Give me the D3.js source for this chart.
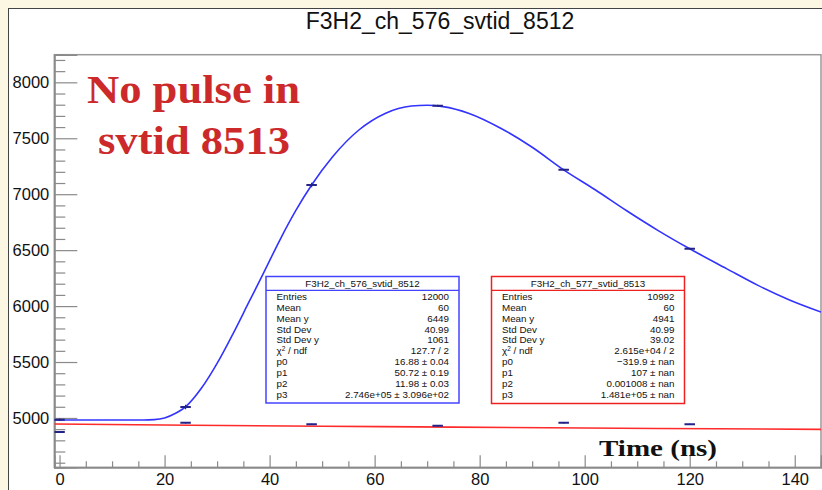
<!DOCTYPE html>
<html><head><meta charset="utf-8">
<script src="https://cdn.jsdelivr.net/npm/d3@7"></script>
<style>
html,body{margin:0;padding:0;background:#fcf7e2;}
svg{display:block;font-family:"Liberation Sans",Arial,sans-serif;}
</style></head>
<body>
<script>
// ---------------- data ----------------
const title = "F3H2_ch_576_svtid_8512";
const xTicks = [0, 20, 40, 60, 80, 100, 120, 140];
const yTicks = [5000, 5500, 6000, 6500, 7000, 7500, 8000];
const binCenters = [0, 24, 48, 72, 96, 120];
const blueHist = [4985, 5098, 7082, 7791, 7219, 6513];
const blueErr = [10, 20, 20, 8, 8, 8];
const redHist = [4874, 4957, 4943, 4931, 4957, 4943];
const redErr = [6, 6, 6, 6, 6, 6];
const blueFitT = [-1, 16, 18, 20, 22, 24, 27, 30, 33, 36, 39, 42, 45, 48, 52, 57, 62, 67, 70, 73, 78, 84, 90, 96, 102, 108, 114, 120, 127, 133, 139, 145];
const blueFitV = [4982, 4982, 4985, 5000, 5040, 5100, 5265, 5488, 5750, 6030, 6310, 6595, 6855, 7082, 7335, 7574, 7722, 7788, 7795, 7783, 7722, 7590, 7420, 7218, 7040, 6852, 6675, 6512, 6335, 6185, 6055, 5947];
const redFitT = [-1, 25, 50, 75, 100, 125, 145];
const redFitV = [4946, 4935, 4926, 4918, 4910, 4903, 4898];
const statLabels = ["Entries", "Mean", "Mean y", "Std Dev", "Std Dev y", "CHI", "p0", "p1", "p2", "p3"];
const blueStats = ["12000", "60", "6449", "40.99", "1061", "127.7 / 2", "16.88 \u00b1 0.04", "50.72 \u00b1 0.19", "11.98 \u00b1 0.03", "2.746e+05 \u00b1 3.096e+02"];
const redStats = ["10992", "60", "4941", "40.99", "39.02", "2.615e+04 / 2", "\u2212319.9 \u00b1 nan", "107 \u00b1 nan", "0.001008 \u00b1 nan", "1.481e+05 \u00b1 nan"];
const blueBoxTitle = "F3H2_ch_576_svtid_8512";
const redBoxTitle = "F3H2_ch_577_svtid_8513";
const annotLines = ["No pulse in", "svtid 8513"];
const xLabel = "Time (ns)";

// ---------------- layout ----------------
const W = 822, H = 490;
const fr = {l: 54.3, r: 821, t: 54.7, b: 467.3};
const svg = d3.select("body").append("svg").attr("width", W).attr("height", H);

svg.append("rect").attr("width", W).attr("height", H).attr("fill", "#fcf7e2");
svg.append("rect").attr("x", 8.5).attr("y", 8.5).attr("width", W).attr("height", H)
  .attr("fill", "#ffffff").attr("stroke", "#444").attr("stroke-width", 1);

const x = d3.scaleLinear().domain([-1, 145]).range([fr.l, fr.r]);
const y = d3.scaleLinear().domain([4559, 8247]).range([fr.b, fr.t]);

// title
svg.append("text").attr("x", 440).attr("y", 29).attr("text-anchor", "middle")
  .attr("font-size", 23).attr("fill", "#111").text(title);

// clip
svg.append("clipPath").attr("id", "clip").append("rect")
  .attr("x", fr.l).attr("y", fr.t).attr("width", fr.r - fr.l).attr("height", fr.b - fr.t);

// frame
svg.append("rect").attr("x", fr.l).attr("y", fr.t).attr("width", fr.r - fr.l).attr("height", fr.b - fr.t)
  .attr("fill", "none").attr("stroke", "#999").attr("stroke-width", 1.5);

const tickColor = "#8a8a8a";
const fmt = d3.format("d");
// x axis
const xMinor = d3.range(0, 146, 5).filter(v => v % 20 !== 0);
const gxMinor = svg.append("g").attr("transform", `translate(0,${fr.b})`)
  .call(d3.axisBottom(x).tickValues(xMinor).tickSize(-6).tickFormat(""));
const gx = svg.append("g").attr("transform", `translate(0,${fr.b})`)
  .call(d3.axisBottom(x).tickValues(xTicks).tickSize(-12).tickPadding(6).tickFormat(fmt));
// y axis
const yMinor = d3.range(4600, 8247, 100).filter(v => v % 500 !== 0);
const gyMinor = svg.append("g").attr("transform", `translate(${fr.l},0)`)
  .call(d3.axisLeft(y).tickValues(yMinor).tickSize(-11).tickFormat(""));
const gy = svg.append("g").attr("transform", `translate(${fr.l},0)`)
  .call(d3.axisLeft(y).tickValues(yTicks).tickSize(-23).tickPadding(5).tickFormat(fmt));
[gx, gxMinor, gy, gyMinor].forEach(g => {
  g.select(".domain").attr("stroke", tickColor).attr("stroke-width", 1.5);
  g.selectAll(".tick line").attr("stroke", tickColor).attr("stroke-width", 1.2);
  g.selectAll(".tick text").attr("font-size", 16.5).attr("fill", "#111")
    .attr("font-family", "Liberation Sans, Arial, sans-serif");
});

const plot = svg.append("g").attr("clip-path", "url(#clip)");

// fit curves
const line = d3.line().x(d => x(d[0])).y(d => y(d[1])).curve(d3.curveMonotoneX);
plot.append("path").datum(redFitT.map((t, i) => [t, redFitV[i]]))
  .attr("d", line).attr("fill", "none").attr("stroke", "#ff2a2a").attr("stroke-width", 1.6);
plot.append("path").datum(blueFitT.map((t, i) => [t, blueFitV[i]]))
  .attr("d", line).attr("fill", "none").attr("stroke", "#3333ff").attr("stroke-width", 1.6);

// histogram markers (bin width 2)
function drawMarkers(vals, errs) {
  const g = plot.append("g").attr("stroke", "#23238a").attr("stroke-width", 2);
  binCenters.forEach((c, i) => {
    g.append("line").attr("x1", x(c - 1)).attr("x2", x(c + 1))
      .attr("y1", y(vals[i])).attr("y2", y(vals[i]));
    g.append("line").attr("x1", x(c)).attr("x2", x(c)).attr("stroke-width", 1.2)
      .attr("y1", y(vals[i] - errs[i])).attr("y2", y(vals[i] + errs[i]));
  });
}
drawMarkers(blueHist, blueErr);
drawMarkers(redHist, redErr);

// stats boxes
function statBox(bx, by, bw, bh, color, boxTitle, vals) {
  const g = svg.append("g");
  g.append("rect").attr("x", bx).attr("y", by).attr("width", bw).attr("height", bh)
    .attr("fill", "#fff").attr("stroke", color).attr("stroke-width", 1.5);
  g.append("line").attr("x1", bx).attr("x2", bx + bw).attr("y1", by + 13.8).attr("y2", by + 13.8)
    .attr("stroke", color).attr("stroke-width", 1.2);
  g.append("text").attr("x", bx + bw / 2).attr("y", by + 10.3).attr("text-anchor", "middle")
    .attr("font-size", 9.8).attr("fill", "#111").text(boxTitle);
  statLabels.forEach((lab, i) => {
    const yy = by + 23.3 + i * 10.9;
    const t = g.append("text").attr("x", bx + 10.5).attr("y", yy).attr("font-size", 9.8).attr("fill", "#111");
    if (lab === "CHI") {
      t.append("tspan").text("\u03c7");
      t.append("tspan").attr("font-size", 6.5).attr("dy", -3.5).text("2");
      t.append("tspan").attr("dy", 3.5).text(" / ndf");
    } else t.text(lab);
    g.append("text").attr("x", bx + bw - 10).attr("y", yy).attr("text-anchor", "end")
      .attr("font-size", 9.8).attr("fill", "#111").text(vals[i]);
  });
}
statBox(266, 276.5, 193, 126.5, "#4444ff", blueBoxTitle, blueStats);
statBox(491.5, 276.5, 193, 127, "#ee2020", redBoxTitle, redStats);

// annotation
const serif = "Liberation Serif, Times New Roman, serif";
svg.append("text").attr("x", 193.5).attr("y", 102.7).attr("text-anchor", "middle")
  .attr("font-family", serif).attr("font-weight", "bold").attr("font-size", 40)
  .attr("fill", "#cc2a2a").attr("textLength", 213).attr("lengthAdjust", "spacingAndGlyphs").text(annotLines[0]);
svg.append("text").attr("x", 194).attr("y", 154).attr("text-anchor", "middle")
  .attr("font-family", serif).attr("font-weight", "bold").attr("font-size", 40)
  .attr("fill", "#cc2a2a").attr("textLength", 192).attr("lengthAdjust", "spacingAndGlyphs").text(annotLines[1]);

// x label
svg.append("text").attr("x", 599).attr("y", 456)
  .attr("font-family", serif).attr("font-weight", "bold").attr("font-size", 24)
  .attr("fill", "#111").attr("textLength", 118).attr("lengthAdjust", "spacingAndGlyphs").text(xLabel);
</script>
</body></html>
